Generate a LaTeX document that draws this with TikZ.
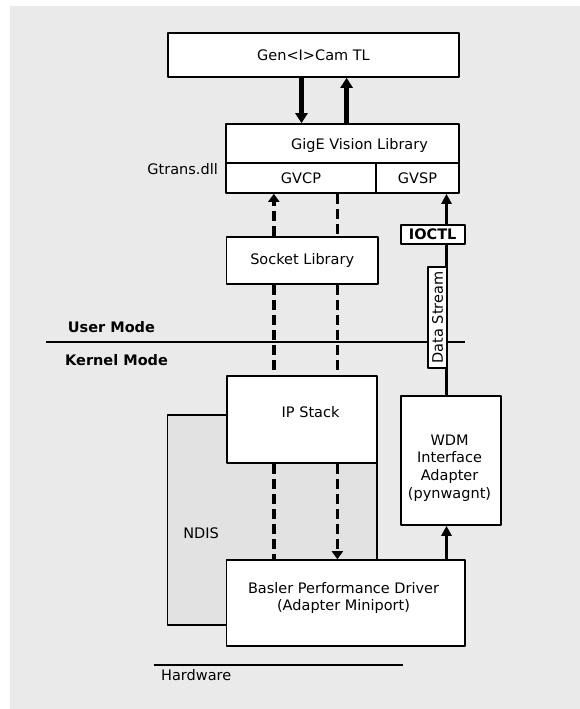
\documentclass[tikz,border=0pt]{standalone}
\usepackage{fontspec}
\setmainfont{DejaVu Sans}
\usetikzlibrary{arrows.meta}
\definecolor{bggray}{RGB}{234,234,234}
\definecolor{ndisgray}{RGB}{226,226,226}
\tikzset{
	box/.style={draw, fill=white, line width=1.6pt, inner sep=0pt, align=center},
	tag/.style={inner sep=0pt},
	bigarrow/.style={line width=4.5pt, -{Triangle[width=12pt,length=10pt]}},
	dashline/.style={line width=3.6pt, dash pattern=on 10pt off 5pt},
	dasharrow/.style={dashline, -{Triangle[width=11pt,length=8pt]}},
	streamline/.style={line width=3.6pt, -{Triangle[width=10pt,length=10pt]}}
}
\begin{document}
\begin{tikzpicture}[x=1pt, y=-1pt, line join=round,
		every node/.style={font=\fontsize{14.5}{17.6}\selectfont}]
			\def\laneA{273.8} 	\def\laneB{337.4}	\def\laneC{446.5}
			\def\downx{301.5} 	\def\upx{346.6}
			\useasboundingbox (0,0) rectangle (580,709);
			\fill[bggray] (10,6) rectangle (580,709);
			\draw[line width=1.6pt, fill=ndisgray] (167.6,415) rectangle (377,625);
			\node[tag] at (201,533) {NDIS};
			
			\node[box, minimum width=291pt, minimum height=44pt] (gencam) at (313.5,55) {Gen<I>Cam TL};
			\node[box, minimum width=233pt, minimum height=38.7pt,
				label={[tag, xshift=17pt, yshift=-2pt]center:GigE Vision Library}] (gige) at (342.5,143.35) {};
			\node[box, minimum width=150pt, minimum height=30.3pt] (gvcp) at (301,177.85) {GVCP};
			\node[box, minimum width=83pt, minimum height=30.3pt] (gvsp) at (417.5,177.85) {GVSP};
			\node[box, minimum width=151.6pt, minimum height=47pt] (socket) at (302.2,260.5) {Socket Library};
			\node[box, minimum width=150pt, minimum height=87pt,
				label={[tag, xshift=8.6pt, yshift=7.8pt]center:IP Stack}] (ipstack) at (302,419.5) {};
			\node[box, minimum width=238.3pt, minimum height=85.7pt,
				label={[tag, align=center, xshift=-2pt, yshift=5pt]center:Basler Performance Driver\\(Adapter Miniport)}] (basler) at (345.55,602.85) {};
			\node[box, minimum width=99.7pt, minimum height=129pt,
				label={[tag, align=center, xshift=-1.3pt, yshift=-7.5pt]center:WDM\\Interface\\Adapter\\(pynwagnt)}] (wdm) at (450.85,460.5) {};
			
			\node[tag, anchor=east] (gtrans) at (218,169) {Gtrans.dll};
			\node[tag, anchor=west] (user) at (67.7,327) {\bfseries User Mode};
			\node[tag, anchor=west] (kernel) at (65,360) {\bfseries Kernel Mode};
			\node[tag, anchor=west] (hw) at (161,675) {Hardware};
			\draw[line width=2pt] (45.5,342) -- (465,342);
			\draw[line width=2pt] (153.5,665) -- (402.5,665);
			
			\draw[bigarrow] (gencam.south -| \downx,0) -- (gige.north -| \downx,0);
			\draw[bigarrow] (gige.north -| \upx,0) -- (gencam.south -| \upx,0);
			\draw[dasharrow] (socket.north -| \laneA,0) -- (gvcp.south -| \laneA,0);
			\draw[dashline] (gvcp.south -| \laneB,0) -- (socket.north -| \laneB,0);
			\draw[dashline] (socket.south -| \laneA,0) -- (ipstack.north -| \laneA,0);
			\draw[dashline] (socket.south -| \laneB,0) -- (ipstack.north -| \laneB,0);
			\draw[dashline] (ipstack.south -| \laneA,0) -- (basler.north -| \laneA,0);
			\draw[dasharrow] (ipstack.south -| \laneB,0) -- (basler.north -| \laneB,0);
			\draw[streamline] (basler.north -| \laneC,0) -- (wdm.south -| \laneC,0);
			\draw[streamline] (wdm.north -| \laneC,0) -- (gvsp.south -| \laneC,0);
			
			\node[box, line width=1.3pt, rotate=90, minimum width=101pt, minimum height=19pt] (stream) at (437.5,317.5) {Data Stream};
			\node[box, minimum width=64pt, minimum height=19pt] (ioctl) at (432.7,234.5) {\bfseries IOCTL};
		\end{tikzpicture}
\end{document}
